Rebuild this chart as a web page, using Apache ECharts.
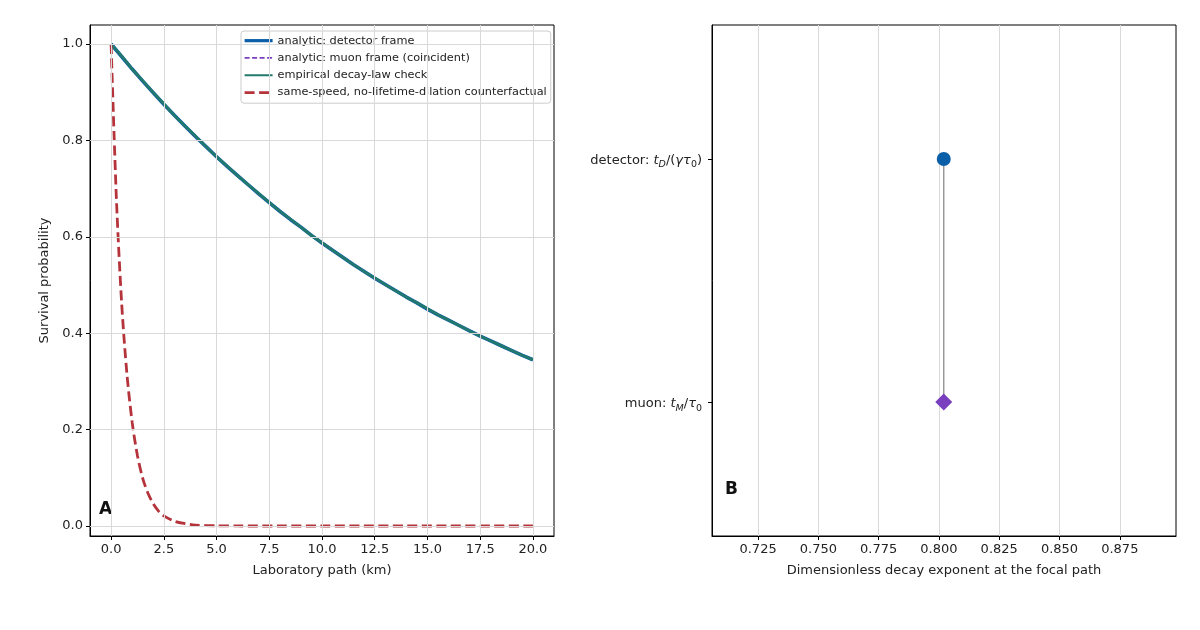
<!DOCTYPE html>
<html>
<head>
<meta charset="utf-8">
<script src="https://cdn.jsdelivr.net/npm/echarts@6/dist/echarts.min.js"></script>
<style>
  html, body { margin: 0; padding: 0; background: #fff; }
  #chart { width: 1200px; height: 630px; }
</style>
</head>
<body>
<div id="chart"></div>
<script>
// panel A: survival probability vs laboratory path (km)
const pathKm = [0, 0.5, 1, 1.5, 2, 2.5, 3, 3.5, 4, 4.5, 5, 5.5, 6, 6.5, 7, 7.5, 8, 8.5, 9, 9.5,
  10, 10.5, 11, 11.5, 12, 12.5, 13, 13.5, 14, 14.5, 15, 15.5, 16, 16.5, 17, 17.5, 18, 18.5, 19, 19.5, 20];
const detectorY = [1.000, 0.974, 0.948, 0.923, 0.899, 0.875, 0.852, 0.830, 0.808, 0.787, 0.766,
  0.746, 0.727, 0.708, 0.689, 0.671, 0.653, 0.636, 0.620, 0.603, 0.587, 0.572, 0.557, 0.542,
  0.528, 0.514, 0.501, 0.488, 0.475, 0.463, 0.450, 0.438, 0.427, 0.416, 0.405, 0.394, 0.384,
  0.374, 0.364, 0.354, 0.345];
const muonY = detectorY.slice();
const empiricalY = [1.000, 0.975, 0.948, 0.924, 0.899, 0.876, 0.852, 0.830, 0.809, 0.787, 0.766,
  0.747, 0.727, 0.708, 0.690, 0.671, 0.653, 0.637, 0.620, 0.603, 0.588, 0.572, 0.557, 0.542,
  0.528, 0.515, 0.501, 0.488, 0.475, 0.463, 0.451, 0.438, 0.427, 0.416, 0.405, 0.394, 0.384,
  0.374, 0.364, 0.354, 0.345];
const noDilationX = [0, 0.25, 0.5, 0.75, 1, 1.25, 1.5, 1.75, 2, 2.25, 2.5, 3, 3.5, 4, 5, 6, 8, 10, 12, 14, 16, 18, 20];
const noDilationY = [1.000, 0.681, 0.463, 0.316, 0.215, 0.146, 0.099, 0.068, 0.046, 0.031, 0.021,
  0.010, 0.005, 0.002, 0.0005, 0.0001, 0, 0, 0, 0, 0, 0, 0];

const xTicksA = [0, 2.5, 5, 7.5, 10, 12.5, 15, 17.5, 20];
const yTicksA = [0, 0.2, 0.4, 0.6, 0.8, 1.0];

// panel B: dimensionless decay exponent
const exponentNames = ['muon', 'detector'];
const exponentValues = [0.802, 0.802];
const xTicksB = [0.725, 0.75, 0.775, 0.8, 0.825, 0.85, 0.875];

const FONT = 'DejaVu Sans';
const gridColor = '#d9d9d9';

const zip = (xs, ys) => xs.map((x, i) => [x, ys[i]]);

const chart = echarts.init(document.getElementById('chart'));

const yLabelB = {
  0: '{n|muon: }{i|t}{si|M}{n|/}{i|τ}{s|0}',
  1: '{n|detector: }{i|t}{si|D}{n|/(}{i|γτ}{s|0}{n|)}'
};

const tickStyle = { color: '#000', width: 1 };

const option = {
  backgroundColor: '#fff',
  animation: false,
  textStyle: { fontFamily: FONT },
  grid: [
    { left: 90, top: 25, width: 464, height: 511, show: true, borderColor: '#000', borderWidth: 1, backgroundColor: 'transparent' },
    { left: 712, top: 25, width: 464, height: 511, show: true, borderColor: '#000', borderWidth: 1, backgroundColor: 'transparent' }
  ],
  legend: {
    left: 241, top: 31,
    orient: 'vertical',
    data: [
      { name: 'analytic: detector frame', lineStyle: { width: 3.2 } },
      { name: 'analytic: muon frame (coincident)', lineStyle: { width: 1.8 } },
      { name: 'empirical decay-law check', lineStyle: { width: 2 } },
      { name: 'same-speed, no-lifetime-dilation counterfactual', lineStyle: { width: 2.8 } }
    ],
    itemWidth: 28, itemHeight: 10, itemGap: 4,
    padding: [3, 4, 4, 2],
    backgroundColor: 'rgba(255,255,255,0.85)',
    borderColor: '#cccccc', borderWidth: 1, borderRadius: 3,
    textStyle: { fontFamily: FONT, fontSize: 11.3, color: '#222', lineHeight: 13.3 }
  },
  xAxis: [
    {
      gridIndex: 0, type: 'value', min: -1, max: 21,
      name: 'Laboratory path (km)', nameLocation: 'middle', nameGap: 28,
      nameTextStyle: { fontFamily: FONT, fontSize: 13, color: '#222' },
      axisLine: { onZero: false, lineStyle: { color: '#000' } },
      axisTick: { show: true, length: 4, interval: 0, customValues: xTicksA, lineStyle: tickStyle },
      axisLabel: { customValues: xTicksA, interval: 0, formatter: v => v.toFixed(1), fontFamily: FONT, fontSize: 13, color: '#222', margin: 7 },
      splitLine: { show: false }
    },
    {
      gridIndex: 1, type: 'value', min: 0.7059, max: 0.8983,
      name: 'Dimensionless decay exponent at the focal path', nameLocation: 'middle', nameGap: 28,
      nameTextStyle: { fontFamily: FONT, fontSize: 13, color: '#222' },
      axisLine: { onZero: false, lineStyle: { color: '#000' } },
      axisTick: { show: true, length: 4, interval: 0, customValues: xTicksB, lineStyle: tickStyle },
      axisLabel: { customValues: xTicksB, interval: 0, formatter: v => v.toFixed(3), fontFamily: FONT, fontSize: 13, color: '#222', margin: 7 },
      splitLine: { show: false }
    }
  ],
  yAxis: [
    {
      gridIndex: 0, type: 'value', min: -0.0207, max: 1.0394,
      name: 'Survival probability', nameLocation: 'middle', nameGap: 39,
      nameTextStyle: { fontFamily: FONT, fontSize: 13, color: '#222' },
      axisLine: { show: true, onZero: false, lineStyle: { color: '#000' } },
      axisTick: { show: true, length: 4, interval: 0, customValues: yTicksA, lineStyle: tickStyle },
      axisLabel: { customValues: yTicksA, interval: 0, formatter: v => v.toFixed(1), fontFamily: FONT, fontSize: 13, color: '#222', margin: 7, padding: [3, 0, 0, 0] },
      splitLine: { show: false }
    },
    {
      gridIndex: 1, type: 'value', min: -0.551, max: 1.551,
      axisLine: { show: true, onZero: false, lineStyle: { color: '#000' } },
      axisTick: { show: true, length: 4, interval: 0, customValues: [0, 1], lineStyle: tickStyle },
      axisLabel: {
        customValues: [0, 1],
        interval: 0,
        formatter: v => yLabelB[Math.round(v)],
        margin: 10,
        padding: [4, 0, 0, 0],
        rich: {
          n: { fontFamily: FONT, fontSize: 13, color: '#222', lineHeight: 18 },
          i: { fontFamily: FONT, fontSize: 13, color: '#222', fontStyle: 'italic', lineHeight: 18 },
          si: { fontFamily: FONT, fontSize: 9.5, color: '#222', fontStyle: 'italic', lineHeight: 9, verticalAlign: 'bottom' },
          s: { fontFamily: FONT, fontSize: 9.5, color: '#222', lineHeight: 9, verticalAlign: 'bottom' }
        }
      },
      splitLine: { show: false }
    }
  ],
  series: [
    {
      // grid lines, panel A
      type: 'line', xAxisIndex: 0, yAxisIndex: 0, data: [], silent: true,
      markLine: {
        silent: true, symbol: 'none', label: { show: false }, precision: 4,
        lineStyle: { color: gridColor, width: 1, type: 'solid' },
        data: xTicksA.map(v => ({ xAxis: v })).concat(yTicksA.map(v => ({ yAxis: v })))
      }
    },
    {
      // grid lines, panel B
      type: 'line', xAxisIndex: 1, yAxisIndex: 1, data: [], silent: true,
      markLine: {
        silent: true, symbol: 'none', label: { show: false }, precision: 4,
        lineStyle: { color: gridColor, width: 1, type: 'solid' },
        data: xTicksB.map(v => ({ xAxis: v }))
      }
    },
    {
      name: 'analytic: detector frame', type: 'line', xAxisIndex: 0, yAxisIndex: 0,
      data: zip(pathKm, detectorY), showSymbol: false, symbol: 'none',
      lineStyle: { color: '#0b5fa8', width: 3.6 }, itemStyle: { color: '#0b5fa8', opacity: 0 }
    },
    {
      name: 'analytic: muon frame (coincident)', type: 'line', xAxisIndex: 0, yAxisIndex: 0,
      data: zip(pathKm, muonY), showSymbol: false, symbol: 'none',
      lineStyle: { color: '#7a3fbf', width: 1.8, type: [5, 2.5] }, itemStyle: { color: '#7a3fbf', opacity: 0 }
    },
    {
      name: 'empirical decay-law check', type: 'line', xAxisIndex: 0, yAxisIndex: 0,
      data: zip(pathKm, empiricalY), showSymbol: false, symbol: 'none',
      lineStyle: { color: '#217a6c', width: 2.6 }, itemStyle: { color: '#217a6c', opacity: 0 }
    },
    {
      name: 'same-speed, no-lifetime-dilation counterfactual', type: 'line', xAxisIndex: 0, yAxisIndex: 0,
      data: zip(noDilationX, noDilationY), showSymbol: false, symbol: 'none', smooth: 0.3,
      lineStyle: { color: '#b5343b', width: 2.8, type: [10, 4.5] }, itemStyle: { color: '#b5343b', opacity: 0 }
    },
    {
      // connector between the two exponents
      type: 'line', xAxisIndex: 1, yAxisIndex: 1,
      data: exponentValues.map((v, i) => [v, i]), symbol: 'none',
      lineStyle: { color: '#8c8c8c', width: 1.3 }
    },
    {
      type: 'scatter', xAxisIndex: 1, yAxisIndex: 1,
      data: [[exponentValues[1], 1]], symbol: 'circle', symbolSize: 14,
      itemStyle: { color: '#0b5fa8', opacity: 1 }, z: 5
    },
    {
      type: 'scatter', xAxisIndex: 1, yAxisIndex: 1,
      data: [[exponentValues[0], 0]], symbol: 'diamond', symbolSize: 17,
      itemStyle: { color: '#7a3fbf', opacity: 1 }, z: 5
    }
  ],
  graphic: [
    { type: 'text', left: 99, top: 501, style: { text: 'A', font: 'bold 17px "DejaVu Sans"', fill: '#111' } },
    { type: 'text', left: 725, top: 481, style: { text: 'B', font: 'bold 17px "DejaVu Sans"', fill: '#111' } }
  ]
};

chart.setOption(option);
</script>
</body>
</html>
